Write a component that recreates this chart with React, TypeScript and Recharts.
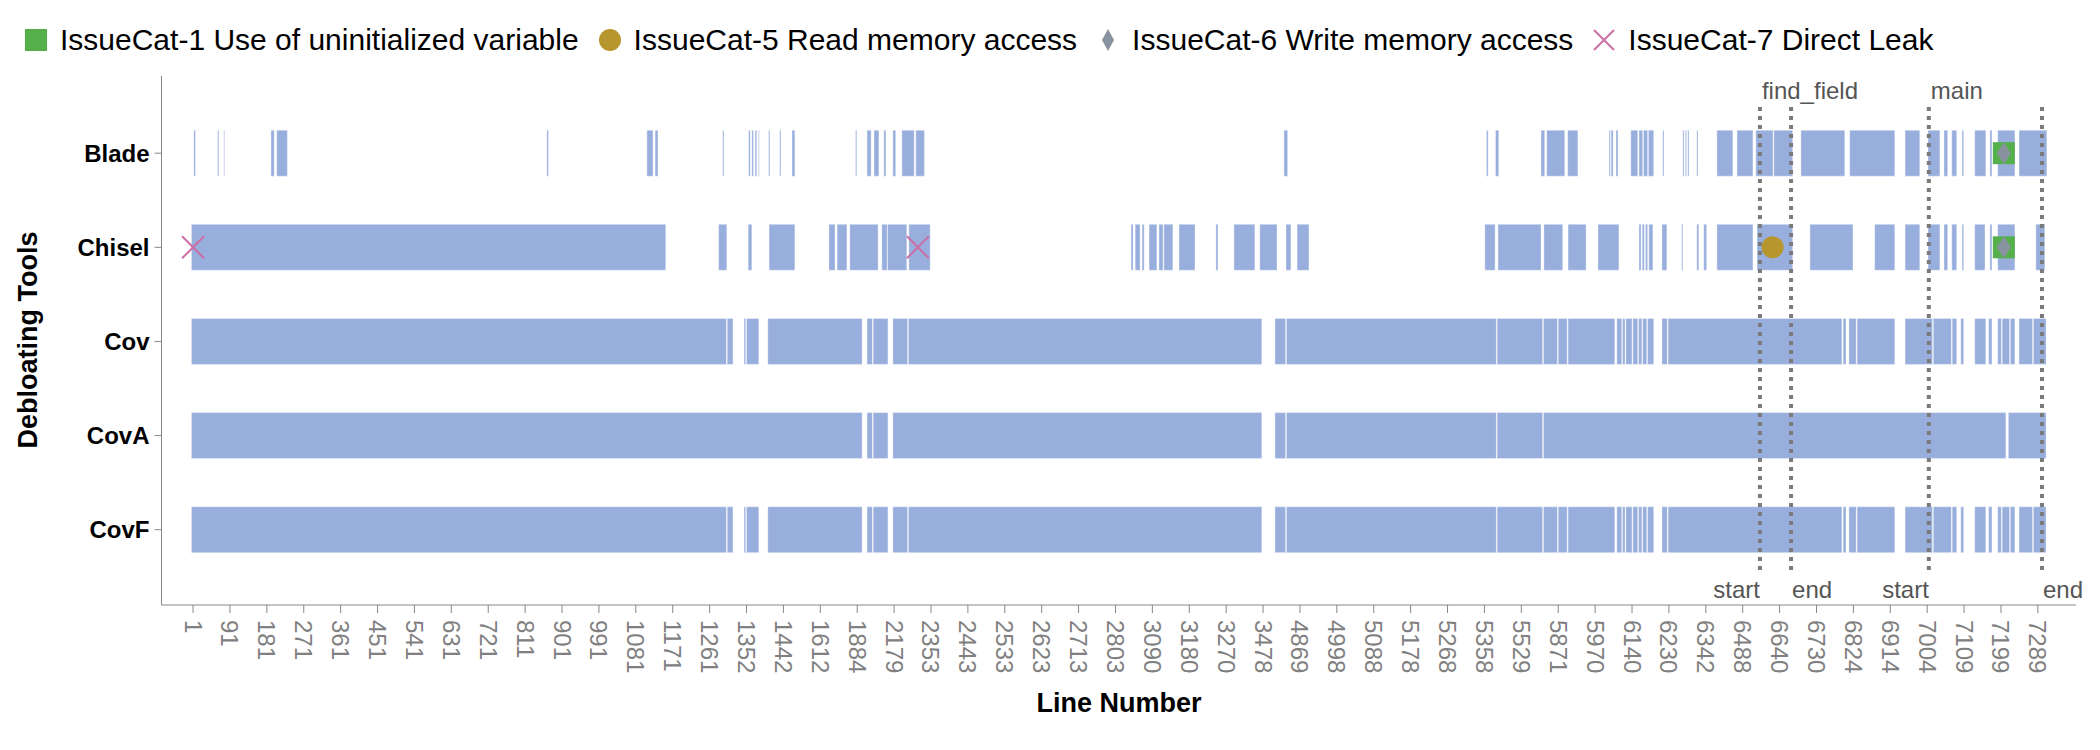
import {
  ScatterChart,
  Scatter,
  XAxis,
  YAxis,
  ReferenceArea,
  ReferenceLine,
  ReferenceDot,
  Legend,
} from "recharts";

type Span = [number, number];

// x values are positions in the merged line index; ticks every 90 positions show the real line number
const lineTicks = [
  "1", "91", "181", "271", "361", "451", "541", "631", "721", "811", "901", "991", "1081",
  "1171", "1261", "1352", "1442", "1612", "1884", "2179", "2353", "2443", "2533", "2623",
  "2713", "2803", "3090", "3180", "3270", "3478", "4869", "4998", "5088", "5178", "5268",
  "5358", "5529", "5871", "5970", "6140", "6230", "6342", "6488", "6640", "6730", "6824",
  "6914", "7004", "7109", "7199", "7289",
];
const tickValues = lineTicks.map((_, i) => i * 90);

const tools = ["Blade", "Chisel", "Cov", "CovA", "CovF"];

const bladeSpans: Span[] = [
  [2, 6], [60, 63], [75, 77], [190, 198], [204, 230], [863, 867], [1107, 1122], [1127, 1134],
  [1292, 1295], [1355, 1359], [1363, 1367], [1371, 1375], [1379, 1381], [1404, 1407],
  [1431, 1434], [1461, 1468], [1616, 1619], [1644, 1654], [1661, 1673], [1685, 1690],
  [1707, 1714], [1729, 1759], [1763, 1784], [2661, 2670], [3155, 3159], [3177, 3185],
  [3288, 3297], [3302, 3346], [3353, 3378], [3454, 3457], [3459, 3464], [3471, 3476],
  [3507, 3524], [3527, 3536], [3538, 3548], [3550, 3563], [3585, 3588], [3634, 3637],
  [3640, 3643], [3646, 3649], [3668, 3671], [3717, 3756], [3766, 3805], [3812, 3854],
  [3856, 3902], [3922, 4029], [4041, 4151], [4176, 4212], [4232, 4261], [4271, 4280],
  [4290, 4302], [4315, 4319], [4346, 4373], [4383, 4388], [4402, 4444], [4454, 4522],
];

const chiselSpans: Span[] = [
  [-4, 1153], [1282, 1302], [1354, 1363], [1405, 1468], [1551, 1566], [1571, 1595],
  [1602, 1671], [1680, 1693], [1694, 1741], [1746, 1798], [2288, 2293], [2298, 2310],
  [2315, 2320], [2332, 2351], [2356, 2366], [2368, 2390], [2405, 2444], [2495, 2500],
  [2539, 2590], [2602, 2644], [2666, 2678], [2693, 2722], [3151, 3176], [3183, 3288],
  [3295, 3341], [3354, 3398], [3427, 3478], [3527, 3532], [3535, 3540], [3543, 3548],
  [3551, 3561], [3583, 3595], [3631, 3634], [3668, 3673], [3685, 3692], [3717, 3805],
  [3815, 3902], [3944, 4049], [4102, 4151], [4176, 4212], [4232, 4261], [4271, 4280],
  [4290, 4302], [4315, 4319], [4346, 4371], [4383, 4388], [4402, 4444], [4495, 4517],
];

const covSpans: Span[] = [
  [-4, 1301], [1303, 1317], [1344, 1348], [1350, 1380], [1402, 1632], [1644, 1657],
  [1659, 1695], [1707, 1743], [1745, 2607], [2639, 2665], [2667, 3179], [3181, 3292],
  [3294, 3328], [3330, 3352], [3354, 3468], [3473, 3485], [3487, 3493], [3495, 3510],
  [3512, 3524], [3526, 3534], [3536, 3546], [3548, 3563], [3583, 3596], [3598, 4022],
  [4025, 4032], [4039, 4057], [4059, 4151], [4176, 4243], [4245, 4289], [4291, 4302],
  [4312, 4319], [4346, 4373], [4380, 4388], [4402, 4411], [4413, 4431], [4433, 4444],
  [4454, 4487], [4489, 4520],
];

const covASpans: Span[] = [
  [-4, 1632], [1644, 1657], [1659, 1695], [1707, 2607], [2639, 2665], [2667, 3179],
  [3181, 3292], [3294, 4422], [4428, 4520],
];

const covFSpans: Span[] = [
  [-4, 1301], [1303, 1317], [1344, 1348], [1350, 1380], [1402, 1632], [1644, 1657],
  [1659, 1695], [1707, 1743], [1745, 2607], [2639, 2665], [2667, 3179], [3181, 3292],
  [3294, 3328], [3330, 3352], [3354, 3468], [3473, 3485], [3487, 3493], [3495, 3510],
  [3512, 3524], [3526, 3534], [3536, 3546], [3548, 3563], [3583, 3596], [3598, 4022],
  [4025, 4032], [4039, 4057], [4059, 4151], [4176, 4243], [4245, 4289], [4291, 4302],
  [4312, 4319], [4346, 4373], [4380, 4388], [4402, 4411], [4413, 4431], [4433, 4444],
  [4454, 4487], [4489, 4520],
];

const toolSpans = [bladeSpans, chiselSpans, covSpans, covASpans, covFSpans];

// issue markers: y is the tool row
const cat1Points = [{ x: 4417, y: 0 }, { x: 4417, y: 1 }];
const cat5Points = [{ x: 3853, y: 1 }];
const cat6Points = [{ x: 4417, y: 0 }, { x: 4417, y: 1 }];
const cat7Points = [{ x: 0, y: 1 }, { x: 1768, y: 1 }];

const legendNames = [
  "IssueCat-1 Use of uninitialized variable",
  "IssueCat-5 Read memory access",
  "IssueCat-6 Write memory access",
  "IssueCat-7 Direct Leak",
];

const functionNames = ["find_field", "main"];
const functionStarts = [3822, 4234];
const functionEnds = [3898, 4510];

const BAR = "#98aedd";
const GREEN = "#55b04b";
const GOLD = "#b8962e";
const SLATE = "#89939f";
const PINK = "#cc6ea6";
const FONT = "'Liberation Sans', Arial, sans-serif";

const squareShape = (p: any) => (
  <rect x={p.cx - 11} y={p.cy - 11} width={22} height={22} fill={GREEN} />
);
const circleShape = (p: any) => <circle cx={p.cx} cy={p.cy} r={11} fill={GOLD} />;
const diamondShape = (p: any) => (
  <polygon
    points={`${p.cx},${p.cy - 11} ${p.cx + 7},${p.cy} ${p.cx},${p.cy + 11} ${p.cx - 7},${p.cy}`}
    fill={SLATE}
  />
);
const crossShape = (p: any) => (
  <g stroke={PINK} strokeWidth={2}>
    <line x1={p.cx - 11} y1={p.cy - 11} x2={p.cx + 11} y2={p.cy + 11} />
    <line x1={p.cx - 11} y1={p.cy + 11} x2={p.cx + 11} y2={p.cy - 11} />
  </g>
);

const legendIcons = [
  <rect key="s" x={0} y={0} width={22} height={22} fill={GREEN} />,
  <circle key="c" cx={11} cy={11} r={11} fill={GOLD} />,
  <polygon key="d" points="11,0 17,11 11,22 5,11" fill={SLATE} />,
  <g key="x" stroke={PINK} strokeWidth={2}>
    <line x1={1} y1={1} x2={21} y2={21} />
    <line x1={1} y1={21} x2={21} y2={1} />
  </g>,
];

const renderLegend = () => (
  <div style={{ display: "flex", alignItems: "center", height: 36, whiteSpace: "nowrap" }}>
    {legendNames.map((name, i) => (
      <div key={name} style={{ display: "flex", alignItems: "center", marginRight: 20 }}>
        <svg width={22} height={22}>{legendIcons[i]}</svg>
        <span style={{ marginLeft: 13, fontSize: 30, color: "#000" }}>{name}</span>
      </div>
    ))}
  </div>
);

const XTick = (props: any) => {
  const { x, y, payload } = props;
  const label = lineTicks[tickValues.indexOf(payload.value)];
  return (
    <text
      x={x}
      y={y}
      transform={`rotate(90, ${x}, ${y})`}
      textAnchor="start"
      dominantBaseline="central"
      fontSize={24}
      fill="#808080"
    >
      {label}
    </text>
  );
};

const YTitle = () => (
  <text
    x={28}
    y={340}
    transform="rotate(-90, 28, 340)"
    textAnchor="middle"
    dominantBaseline="central"
    fontSize={27}
    fontWeight="bold"
    fill="#000"
  >
    Debloating Tools
  </text>
);

const XTitle = () => (
  <text
    x={1119}
    y={703}
    textAnchor="middle"
    dominantBaseline="central"
    fontSize={27}
    fontWeight="bold"
    fill="#000"
  >
    Line Number
  </text>
);

export default function App() {
  return (
    <div style={{ position: "absolute", left: 0, top: 0, fontFamily: FONT }}>
      <ScatterChart
        width={2100}
        height={750}
        margin={{ top: 76, right: 24, bottom: 10, left: 101.5 }}
      >
        <XAxis
          type="number"
          dataKey="x"
          domain={[-77, 4593]}
          allowDataOverflow
          ticks={tickValues}
          interval={0}
          tick={<XTick />}
          tickSize={8}
          tickMargin={7}
          stroke="#888"
          height={135}
          label={<XTitle />}
        />
        <YAxis
          type="number"
          dataKey="y"
          domain={[-0.82, 4.8]}
          allowDataOverflow
          reversed
          ticks={[0, 1, 2, 3, 4]}
          interval={0}
          tickFormatter={(v: number) => tools[v]}
          tick={{ fill: "#000", fontSize: 24, fontWeight: "bold" }}
          tickSize={7}
          tickMargin={5}
          stroke="#888"
          width={60}
          label={<YTitle />}
        />
        <Legend
          verticalAlign="middle"
          align="center"
          content={renderLegend}
          wrapperStyle={{ top: 22, left: 25, width: "auto" }}
        />

        {toolSpans.map((spans, row) =>
          spans.map(([s, e], k) => (
            <ReferenceArea
              key={`${row}-${k}`}
              x1={s}
              x2={e}
              y1={row - 0.244}
              y2={row + 0.244}
              fill={BAR}
              fillOpacity={1}
              stroke="#ffffff"
              strokeOpacity={0.45}
              strokeWidth={0.8}
              ifOverflow="hidden"
            />
          ))
        )}

        {functionNames.map((name, i) => [
          <ReferenceLine
            key={`${name}-s`}
            segment={[{ x: functionStarts[i], y: -0.49 }, { x: functionStarts[i], y: 4.48 }]}
            stroke="#7a7a7a"
            strokeWidth={4}
            strokeDasharray="4 5"
          />,
          <ReferenceLine
            key={`${name}-e`}
            segment={[{ x: functionEnds[i], y: -0.49 }, { x: functionEnds[i], y: 4.48 }]}
            stroke="#7a7a7a"
            strokeWidth={4}
            strokeDasharray="4 5"
          />,
        ])}

        <Scatter data={cat1Points} shape={squareShape} isAnimationActive={false} />
        <Scatter data={cat5Points} shape={circleShape} isAnimationActive={false} />
        <Scatter data={cat6Points} shape={diamondShape} isAnimationActive={false} />
        <Scatter data={cat7Points} shape={crossShape} isAnimationActive={false} />

        {functionNames.map((name, i) => [
          <ReferenceDot
            key={`${name}-n`}
            x={functionStarts[i]}
            y={-0.67}
            r={0}
            fill="none"
            stroke="none"
            label={{ value: name, position: "right", offset: 2, fontSize: 24, fill: "#555" }}
          />,
          <ReferenceDot
            key={`${name}-a`}
            x={functionStarts[i]}
            y={4.64}
            r={0}
            fill="none"
            stroke="none"
            label={{ value: "start", position: "left", offset: 0, fontSize: 24, fill: "#555" }}
          />,
          <ReferenceDot
            key={`${name}-b`}
            x={functionEnds[i]}
            y={4.64}
            r={0}
            fill="none"
            stroke="none"
            label={{ value: "end", position: "right", offset: 1, fontSize: 24, fill: "#555" }}
          />,
        ])}
      </ScatterChart>
    </div>
  );
}
